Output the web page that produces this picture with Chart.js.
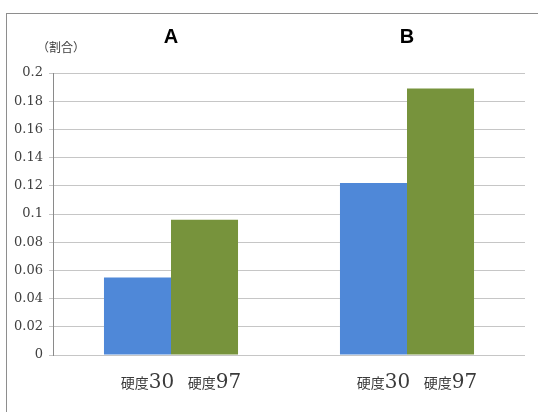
<!DOCTYPE html>
<html>
<head>
<meta charset="utf-8">
<script src="https://cdn.jsdelivr.net/npm/chart.js@4/dist/chart.umd.min.js"></script>
<style>
  html, body { margin: 0; padding: 0; background: #fff; overflow: hidden; }
  #wrap { position: relative; width: 538px; height: 412px; }
  #frame { position: absolute; left: 6px; top: 13px; width: 560px; height: 440px;
           border: 1px solid #8e8e8e; box-sizing: border-box; pointer-events: none; }
  canvas { position: absolute; left: 0; top: 0; }
</style>
</head>
<body>
<div id="wrap">
  <canvas id="c" width="538" height="412"></canvas>
  <div id="frame"></div>
</div>
<script>
// Groups and their measured ratios
const groups = ['A', 'B'];
const seriesNames = ['硬度30', '硬度97'];
const hardness30 = [0.055, 0.122];
const hardness97 = [0.096, 0.189];
const yTicks = { min: 0, max: 0.2, step: 0.02 };
const yUnit = '（割合）';

const SANS_JP = '"Noto Sans CJK JP", "Noto Sans", sans-serif';
const SERIF = '"DejaVu Serif", "Liberation Serif", serif';

// Group letters above, axis unit, and per-bar labels under each bar
const labelsPlugin = {
  id: 'groupLabels',
  afterDraw(chart) {
    const ctx = chart.ctx;
    const area = chart.chartArea;
    const xs = chart.scales.x;
    ctx.save();

    // group letters
    ctx.fillStyle = '#000';
    ctx.font = 'bold 20px "Liberation Sans", Arial, sans-serif';
    ctx.textAlign = 'center';
    ctx.textBaseline = 'alphabetic';
    groups.forEach((g, i) => {
      ctx.fillText(g, xs.getPixelForValue(i), area.top - 30);
    });

    // unit label over the y axis
    ctx.fillStyle = '#404040';
    ctx.font = '12px ' + SANS_JP;
    ctx.fillText(yUnit, area.left + 8, area.top - 21);

    // series name under every bar: kanji in sans, number in serif
    chart.data.datasets.forEach((ds, di) => {
      const meta = chart.getDatasetMeta(di);
      const m = ds.label.match(/^(\D+)(\d+)$/);
      const pre = m ? m[1] : ds.label;
      const num = m ? m[2] : '';
      meta.data.forEach(bar => {
        ctx.font = '14px ' + SANS_JP;
        const w1 = ctx.measureText(pre).width;
        ctx.font = '20px ' + SERIF;
        const w2 = ctx.measureText(num).width;
        const x0 = bar.x + 10 - (w1 + w2) / 2;
        const y = area.bottom + 33;
        ctx.textAlign = 'left';
        ctx.fillStyle = '#3a3a3a';
        ctx.font = '14px ' + SANS_JP;
        ctx.fillText(pre, x0, y);
        ctx.font = '20px ' + SERIF;
        ctx.fillText(num, x0 + w1, y);
      });
    });
    ctx.restore();
  }
};

new Chart(document.getElementById('c'), {
  type: 'bar',
  data: {
    labels: groups,
    datasets: [
      { label: seriesNames[0], data: hardness30, backgroundColor: '#4f88d8' },
      { label: seriesNames[1], data: hardness97, backgroundColor: '#77933c' }
    ]
  },
  options: {
    responsive: false,
    animation: false,
    devicePixelRatio: 1,
    categoryPercentage: 0.568,
    barPercentage: 1,
    layout: { padding: { top: 73, right: 13, bottom: 57, left: 0 } },
    plugins: {
      legend: { display: false },
      tooltip: { enabled: false },
      title: { display: false }
    },
    scales: {
      x: {
        display: false
      },
      y: {
        min: yTicks.min,
        max: yTicks.max,
        afterFit(scale) { scale.width = 53; },
        border: { display: true, color: '#8a8a8a', width: 1 },
        grid: { color: '#c6c6c6', lineWidth: 1, tickLength: 4, drawTicks: true },
        ticks: {
          stepSize: yTicks.step,
          padding: 6,
          color: '#404040',
          font: { family: SERIF, size: 13 },
          callback: v => String(+v.toFixed(2))
        }
      }
    }
  },
  plugins: [labelsPlugin]
});
</script>
</body>
</html>
